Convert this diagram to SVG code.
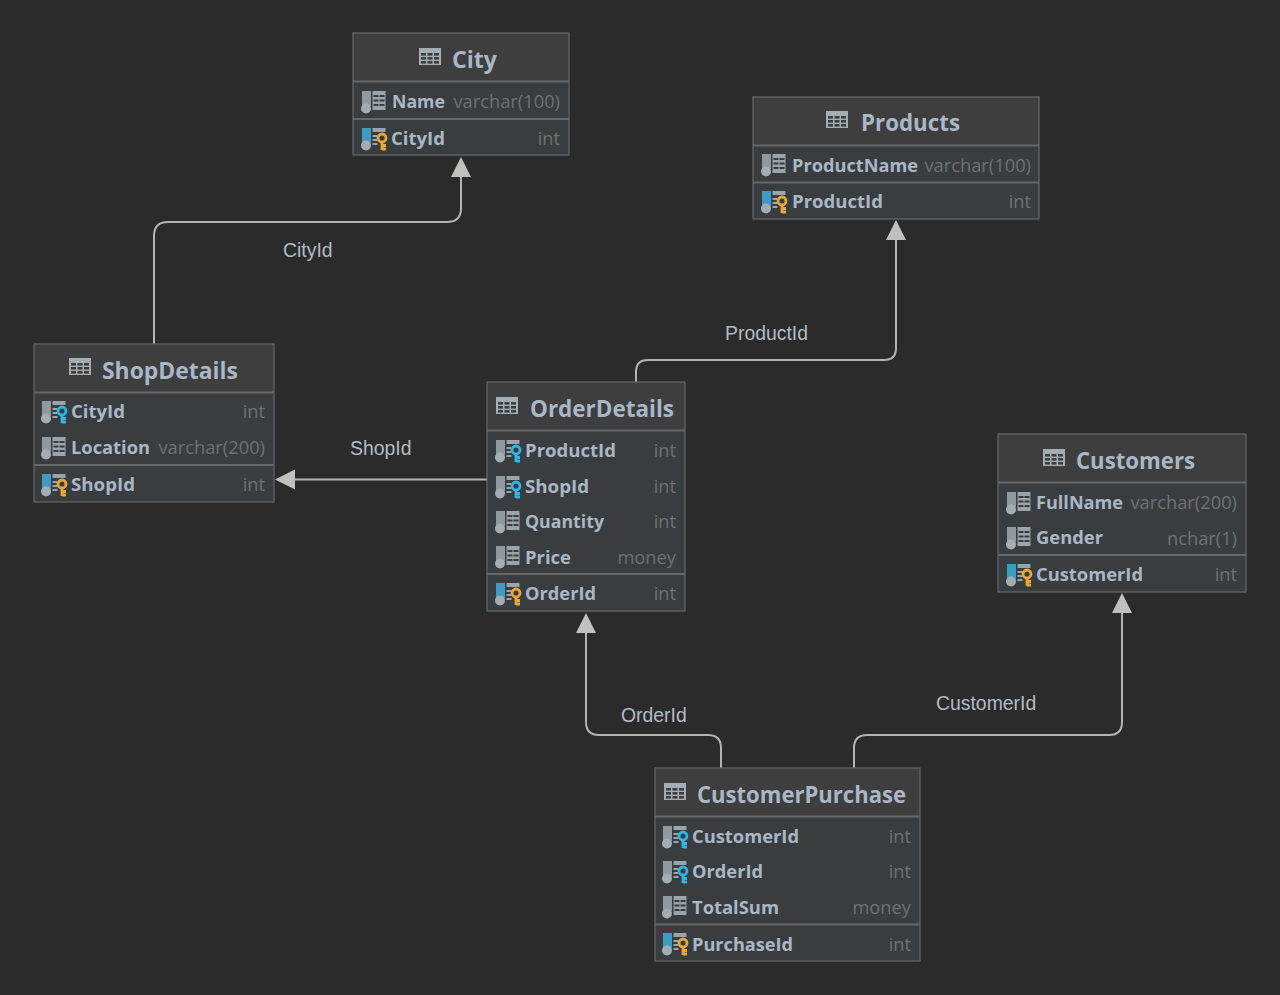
<svg xmlns="http://www.w3.org/2000/svg" width="1280" height="995" viewBox="0 0 1280 995">
<style>
.box{fill:#393d3f}
.head{fill:#3e3e3e}
.border{fill:none;stroke:#65686a;stroke-width:1.2}
.sep{stroke:#65686a;stroke-width:2}
.title{font:bold 23.5px "Open Sans","Noto Sans",sans-serif;fill:#a9b7c6}
.col{font:bold 18.5px "Open Sans","Noto Sans",sans-serif;fill:#a9b7c6}
.type{font:18.3px "Open Sans","Noto Sans",sans-serif;fill:#6f7173;text-anchor:end}
.lbl{font:19.4px "Liberation Sans",Arial,sans-serif;fill:#b2bcc6}
.conn{fill:none;stroke:#b4b4b2;stroke-width:2}
.arrow{fill:#c0c0be}
</style>
<defs>
<g id="t"><rect x="0" y="0" width="22" height="17" fill="#a3adb3"/><g fill="#3e3e3e"><rect x="2" y="5" width="5" height="2.6"/><rect x="8.5" y="5" width="5" height="2.6"/><rect x="15" y="5" width="5" height="2.6"/><rect x="2" y="9" width="5" height="2.6"/><rect x="8.5" y="9" width="5" height="2.6"/><rect x="15" y="9" width="5" height="2.6"/><rect x="2" y="13" width="5" height="2.6"/><rect x="8.5" y="13" width="5" height="2.6"/><rect x="15" y="13" width="5" height="2.6"/></g></g>
<g id="c"><rect x="1" y="0" width="9" height="15" fill="#8f999f"/><circle cx="5" cy="17.500" r="5" fill="#a3adb3"/><rect x="11.500" y="0" width="13" height="19" fill="#9aa4aa"/><g fill="#393d3f"><rect x="12.500" y="4" width="5" height="2"/><rect x="18.500" y="4" width="5" height="2"/><rect x="12.500" y="8.500" width="5" height="2"/><rect x="18.500" y="8.500" width="5" height="2"/><rect x="12.500" y="13" width="5" height="2"/><rect x="18.500" y="13" width="5" height="2"/></g></g>
<g id="pk"><rect x="1" y="0" width="9" height="15" fill="#3e9cc4"/><circle cx="5" cy="17.500" r="5" fill="#a3adb3"/><rect x="11.500" y="0" width="13" height="4" fill="#9aa4aa"/><rect x="11.500" y="7" width="5" height="2" fill="#9aa4aa"/><rect x="11.500" y="11" width="5" height="2" fill="#9aa4aa"/><rect x="11.500" y="15" width="5" height="2" fill="#9aa4aa"/><circle cx="21" cy="10" r="4" fill="none" stroke="#e8a838" stroke-width="2.800"/><path d="M21 13v9M21 17.500h4M21 21h4" fill="none" stroke="#e8a838" stroke-width="2.800"/></g>
<g id="fk"><rect x="1" y="0" width="9" height="15" fill="#8f999f"/><circle cx="5" cy="17.500" r="5" fill="#a3adb3"/><rect x="11.500" y="0" width="13" height="4" fill="#9aa4aa"/><rect x="11.500" y="7" width="5" height="2" fill="#9aa4aa"/><rect x="11.500" y="11" width="5" height="2" fill="#9aa4aa"/><rect x="11.500" y="15" width="5" height="2" fill="#9aa4aa"/><circle cx="21" cy="10" r="4" fill="none" stroke="#2fb5e8" stroke-width="2.800"/><path d="M21 13v9M21 17.500h4M21 21h4" fill="none" stroke="#2fb5e8" stroke-width="2.800"/></g>
</defs>
<rect width="1280" height="995" fill="#2b2b2b"/>
<g id="connectors">
<path class="conn" d="M154 344V236Q154 222 168 222H447Q461 222 461 208V172"/>
<path class="conn" d="M636 382V372Q636 360 648 360H884Q896 360 896 348V236"/>
<path class="conn" d="M487 479.500H290"/>
<path class="conn" d="M721 768V748Q721 735 708 735H599Q586 735 586 722V628"/>
<path class="conn" d="M854 768V748Q854 735 867 735H1109Q1122 735 1122 722V608"/>
<polygon class="arrow" points="461,157 451,177 471,177"/>
<polygon class="arrow" points="896,220 886,240 906,240"/>
<polygon class="arrow" points="275,479.500 295,469.500 295,489.500"/>
<polygon class="arrow" points="586,613 576,633 596,633"/>
<polygon class="arrow" points="1122,593 1112,613 1132,613"/>
<text class="lbl" x="283" y="257">CityId</text>
<text class="lbl" x="725" y="340">ProductId</text>
<text class="lbl" x="350" y="455">ShopId</text>
<text class="lbl" x="621" y="722">OrderId</text>
<text class="lbl" x="936" y="710">CustomerId</text>
</g>
<g id="city">
<rect class="box" x="353" y="33" width="216" height="122"/><rect class="head" x="353" y="33" width="216" height="48"/>
<rect class="border" x="353" y="33" width="216" height="122"/><path class="sep" d="M353 81.500H569M353 119H569"/>
<use href="#t" x="419" y="48"/><text class="title" x="452" y="68" textLength="45" lengthAdjust="spacingAndGlyphs">City</text>
<use href="#c" x="361" y="91"/><text class="col" x="392" y="108" textLength="53" lengthAdjust="spacingAndGlyphs">Name</text><text class="type" x="560" y="108">varchar(100)</text>
<use href="#pk" x="361" y="128"/><text class="col" x="391" y="145" textLength="54" lengthAdjust="spacingAndGlyphs">CityId</text><text class="type" x="560" y="145">int</text>
</g>
<g id="products">
<rect class="box" x="753" y="97" width="286" height="122"/><rect class="head" x="753" y="97" width="286" height="48"/>
<rect class="border" x="753" y="97" width="286" height="122"/><path class="sep" d="M753 145.500H1039M753 182.500H1039"/>
<use href="#t" x="826" y="111"/><text class="title" x="861" y="131" textLength="99" lengthAdjust="spacingAndGlyphs">Products</text>
<use href="#c" x="761" y="154"/><text class="col" x="792" y="172" textLength="126" lengthAdjust="spacingAndGlyphs">ProductName</text><text class="type" x="1031" y="172">varchar(100)</text>
<use href="#pk" x="761" y="191"/><text class="col" x="792" y="208" textLength="91" lengthAdjust="spacingAndGlyphs">ProductId</text><text class="type" x="1031" y="208">int</text>
</g>
<g id="shopdetails">
<rect class="box" x="34" y="344" width="240" height="158"/><rect class="head" x="34" y="344" width="240" height="48"/>
<rect class="border" x="34" y="344" width="240" height="158"/><path class="sep" d="M34 392.500H274M34 465H274"/>
<use href="#t" x="69" y="358"/><text class="title" x="102" y="379" textLength="136" lengthAdjust="spacingAndGlyphs">ShopDetails</text>
<use href="#fk" x="41" y="401"/><text class="col" x="71" y="418" textLength="54" lengthAdjust="spacingAndGlyphs">CityId</text><text class="type" x="265" y="418">int</text>
<use href="#c" x="41" y="437"/><text class="col" x="71" y="454" textLength="79" lengthAdjust="spacingAndGlyphs">Location</text><text class="type" x="265" y="454">varchar(200)</text>
<use href="#pk" x="41" y="474"/><text class="col" x="71" y="491" textLength="64" lengthAdjust="spacingAndGlyphs">ShopId</text><text class="type" x="265" y="491">int</text>
</g>
<g id="orderdetails">
<rect class="box" x="487" y="382" width="198" height="229"/><rect class="head" x="487" y="382" width="198" height="48"/>
<rect class="border" x="487" y="382" width="198" height="229"/><path class="sep" d="M487 430.500H685M487 574H685"/>
<use href="#t" x="496" y="397"/><text class="title" x="530" y="417" textLength="144" lengthAdjust="spacingAndGlyphs">OrderDetails</text>
<use href="#fk" x="495" y="440"/><text class="col" x="525" y="457" textLength="91" lengthAdjust="spacingAndGlyphs">ProductId</text><text class="type" x="676" y="457">int</text>
<use href="#fk" x="495" y="476"/><text class="col" x="525" y="493" textLength="64" lengthAdjust="spacingAndGlyphs">ShopId</text><text class="type" x="676" y="493">int</text>
<use href="#c" x="495" y="511"/><text class="col" x="525" y="528" textLength="79" lengthAdjust="spacingAndGlyphs">Quantity</text><text class="type" x="676" y="528">int</text>
<use href="#c" x="495" y="546"/><text class="col" x="525" y="564" textLength="46" lengthAdjust="spacingAndGlyphs">Price</text><text class="type" x="676" y="564">money</text>
<use href="#pk" x="495" y="583"/><text class="col" x="525" y="600" textLength="71" lengthAdjust="spacingAndGlyphs">OrderId</text><text class="type" x="676" y="600">int</text>
</g>
<g id="customers">
<rect class="box" x="998" y="434" width="248" height="158"/><rect class="head" x="998" y="434" width="248" height="48"/>
<rect class="border" x="998" y="434" width="248" height="158"/><path class="sep" d="M998 482.500H1246M998 555H1246"/>
<use href="#t" x="1043" y="449"/><text class="title" x="1076" y="468.500" textLength="119" lengthAdjust="spacingAndGlyphs">Customers</text>
<use href="#c" x="1006" y="492"/><text class="col" x="1036" y="509" textLength="87" lengthAdjust="spacingAndGlyphs">FullName</text><text class="type" x="1237" y="509">varchar(200)</text>
<use href="#c" x="1006" y="527"/><text class="col" x="1036" y="544" textLength="67" lengthAdjust="spacingAndGlyphs">Gender</text><text class="type" x="1237" y="545">nchar(1)</text>
<use href="#pk" x="1006" y="564"/><text class="col" x="1036" y="581" textLength="107" lengthAdjust="spacingAndGlyphs">CustomerId</text><text class="type" x="1237" y="581">int</text>
</g>
<g id="customerpurchase">
<rect class="box" x="655" y="768" width="265" height="193"/><rect class="head" x="655" y="768" width="265" height="48"/>
<rect class="border" x="655" y="768" width="265" height="193"/><path class="sep" d="M655 816.500H920M655 924.500H920"/>
<use href="#t" x="664" y="783"/><text class="title" x="697" y="803" textLength="209" lengthAdjust="spacingAndGlyphs">CustomerPurchase</text>
<use href="#fk" x="662" y="826"/><text class="col" x="692" y="843" textLength="107" lengthAdjust="spacingAndGlyphs">CustomerId</text><text class="type" x="911" y="843">int</text>
<use href="#fk" x="662" y="861"/><text class="col" x="692" y="878" textLength="71" lengthAdjust="spacingAndGlyphs">OrderId</text><text class="type" x="911" y="878">int</text>
<use href="#c" x="662" y="896"/><text class="col" x="692" y="914" textLength="87" lengthAdjust="spacingAndGlyphs">TotalSum</text><text class="type" x="911" y="914">money</text>
<use href="#pk" x="662" y="933"/><text class="col" x="692" y="951" textLength="101" lengthAdjust="spacingAndGlyphs">PurchaseId</text><text class="type" x="911" y="951">int</text>
</g>
</svg>
